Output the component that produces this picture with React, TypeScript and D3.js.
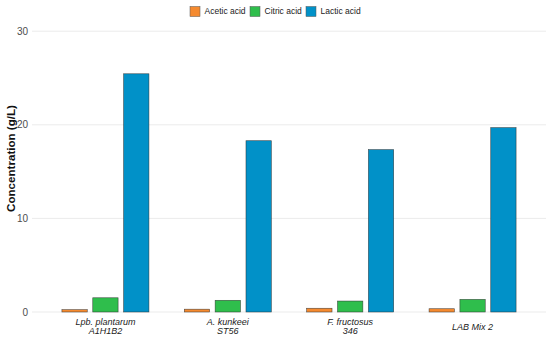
import React from "react";
import * as d3 from "d3";

const categories = ["Lpb. plantarum\nA1H1B2", "A. kunkeei\nST56", "F. fructosus\n346", "LAB Mix 2"];
const seriesNames = ["Acetic acid", "Citric acid", "Lactic acid"];
const acetic = [0.25, 0.3, 0.4, 0.35];
const citric = [1.52, 1.25, 1.17, 1.35];
const lactic = [25.45, 18.3, 17.35, 19.7];
const colors = ["#F58A2F", "#2FBE4C", "#0191C8"];
const yTicks = [0, 10, 20, 30];

const W = 550, H = 338;
const left = 32, right = 546, top = 31.2, bottom = 312;

export default function App() {
  const series = [acetic, citric, lactic];
  const x = d3.scaleLinear().domain([0.4, categories.length + 0.6]).range([left, right]);
  const y = d3.scaleLinear().domain([0, 30]).range([bottom, top]);
  const unit = x(2) - x(1);
  const slot = 0.252 * unit;
  const bw = 0.207 * unit;
  const font = "Liberation Sans, Arial, sans-serif";
  const legendX = [190, 250, 306];
  return (
    <svg width={W} height={H} style={{ position: "absolute", left: 0, top: 0 }} fontFamily={font}>
      <rect width={W} height={H} fill="#fff" />
      {yTicks.map((t) => (
        <g key={t}>
          <line x1={left} x2={right} y1={y(t)} y2={y(t)} stroke="#ebebeb" strokeWidth={1} />
          <text x={28} y={y(t)} dy="0.35em" textAnchor="end" fontSize={10} fill="#4d4d4d">{t}</text>
        </g>
      ))}
      {series.map((vals, si) =>
        vals.map((v, ci) => {
          const cx = x(ci + 1) + (si - 1) * slot;
          return (
            <rect key={si + "-" + ci} x={cx - bw / 2} y={y(v)} width={bw} height={y(0) - y(v)}
              fill={colors[si]} stroke="#2b2b2b" strokeWidth={0.6} strokeOpacity={0.8} />
          );
        })
      )}
      {categories.map((c, ci) => {
        const lines = c.split("\n");
        const y0 = lines.length === 1 ? 326.7 : 322.3;
        return (
          <text key={c} x={x(ci + 1)} y={y0} textAnchor="middle" fontSize={9} fontStyle="italic" fill="#222">
            {lines.map((l, i) => (
              <tspan key={i} x={x(ci + 1)} dy={i === 0 ? "0.35em" : "1.0em"}>{l}</tspan>
            ))}
          </text>
        );
      })}
      <text transform={`translate(10.5,158.5) rotate(-90)`} textAnchor="middle" dy="0.35em"
        fontSize={11.6} fontWeight="bold" fill="#111">Concentration (g/L)</text>
      {seriesNames.map((s, i) => (
        <g key={s}>
          <rect x={legendX[i]} y={6.5} width={10} height={10} fill={colors[i]} stroke="#555" strokeWidth={0.5} />
          <text x={legendX[i] + 14.5} y={11.5} dy="0.35em" fontSize={8.5} fill="#222">{s}</text>
        </g>
      ))}
    </svg>
  );
}
